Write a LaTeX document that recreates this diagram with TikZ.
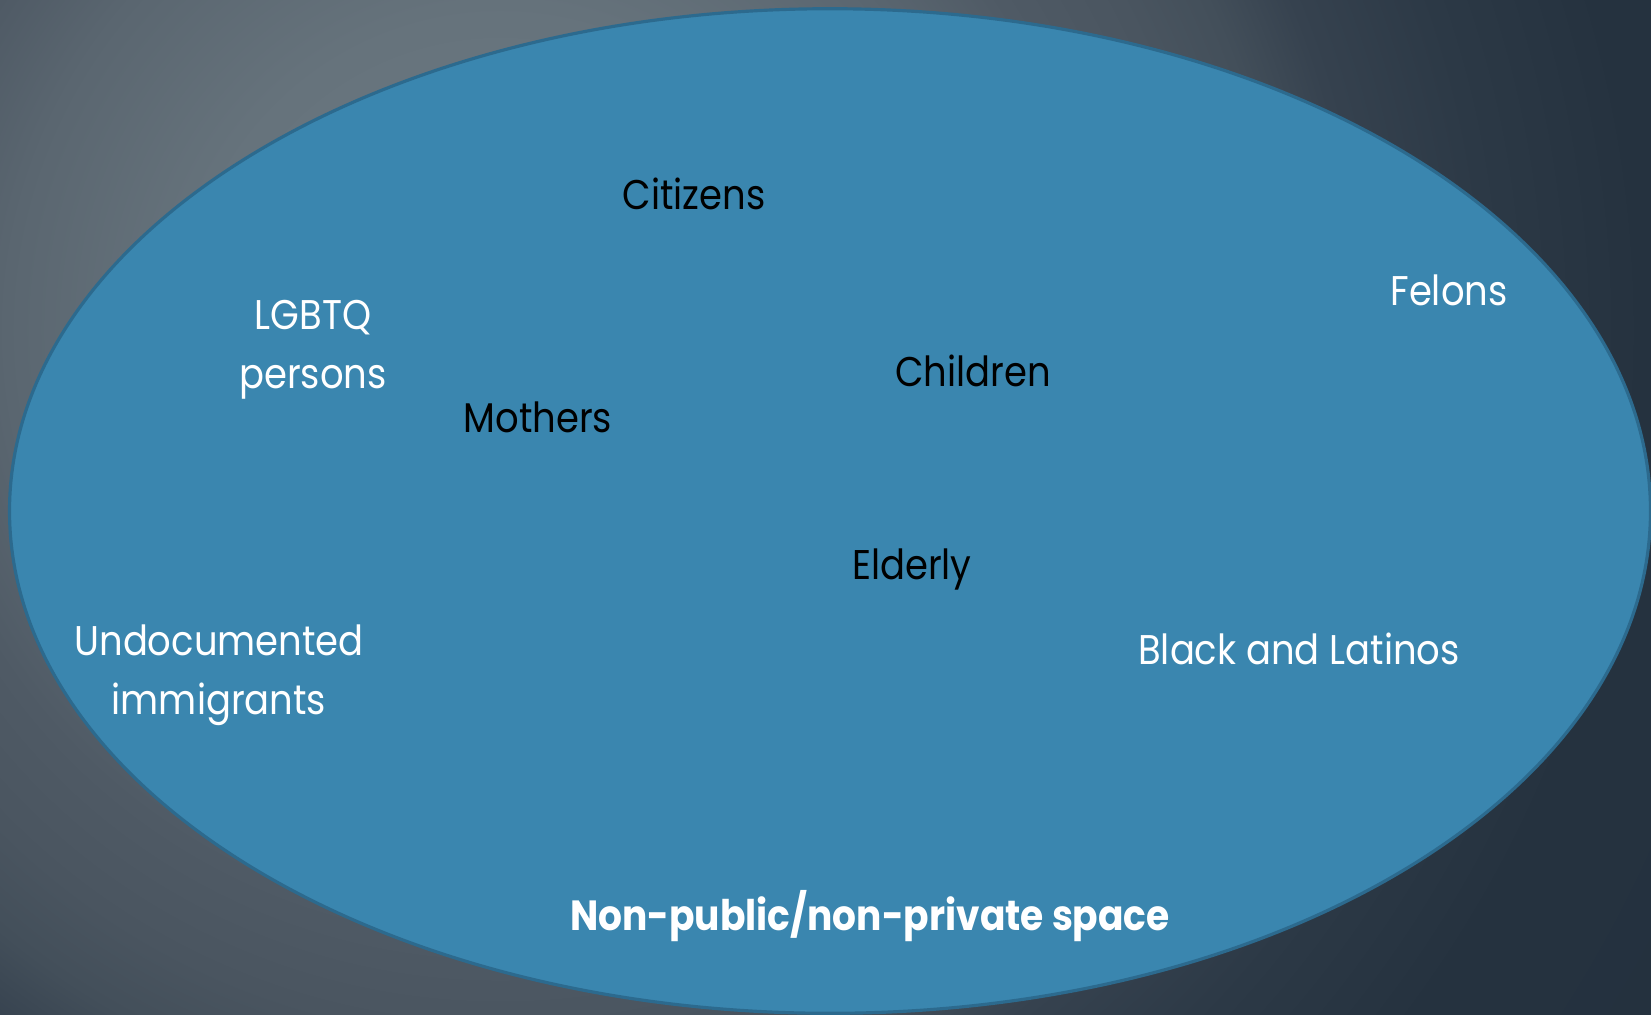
\documentclass[tikz,border=0pt]{standalone}
\usepackage{fontspec}
\setmainfont{Poppins}[FakeStretch=0.89]
\usepackage{xcolor}
\usepackage{tikz}

\definecolor{glowA}{HTML}{6E7B84}
\definecolor{glowB}{HTML}{66737C}
\definecolor{glowC}{HTML}{5A6670}
\definecolor{glowD}{HTML}{4F5A65}
\definecolor{glowE}{HTML}{4A5560}
\definecolor{glowF}{HTML}{434F5A}
\definecolor{glowG}{HTML}{36424F}
\definecolor{glowH}{HTML}{2C3946}
\definecolor{glowI}{HTML}{25323F}
\definecolor{glowJ}{HTML}{212E3C}
\definecolor{spacefill}{HTML}{3A86AF}
\definecolor{spaceline}{HTML}{2C6A8E}

\pgfdeclareradialshading{slideglow}{\pgfpoint{0bp}{0bp}}{%
  color(0bp)=(glowA); color(6bp)=(glowB); color(9.5bp)=(glowC);
  color(11.5bp)=(glowD); color(13.5bp)=(glowE); color(15bp)=(glowF);
  color(16.5bp)=(glowG); color(19bp)=(glowH); color(22bp)=(glowI);
  color(40bp)=(glowJ)}

\tikzset{
  grouplabel/.style={font=\fontsize{11.8}{16.5}\selectfont, anchor=base, align=center, inner sep=0pt},
  darklabel/.style={grouplabel, text=black},
  lightlabel/.style={grouplabel, text=white},
  spacetitle/.style={grouplabel, text=white, font=\fontsize{12.0}{16}\selectfont\bfseries},
  spaceedge/.style={draw=spaceline, line width=0.9pt, fill=spacefill}
}

\begin{document}
\begin{tikzpicture}[x=0.01cm, y=-0.01cm]

% === Slide background ===
\useasboundingbox (0,0) rectangle (1651,1014);
\begin{scope}
  \clip (0,0) rectangle (1651,1014);
  \shade[shading=slideglow] (-800,-970) rectangle (1800,1630);
\end{scope}

% === The space ===
\draw[spaceedge] (830,511) ellipse [x radius=8.2cm, y radius=5.02cm];

% === Groups ===
\node[darklabel]  (citizens)     at (694,209)  {Citizens};
\node[lightlabel] (lgbtq)        at (313,388)  {LGBTQ\\persons};
\node[lightlabel] (felons)       at (1449,305) {Felons};
\node[darklabel]  (children)     at (973,386)  {Children};
\node[darklabel]  (mothers)      at (538,432)  {Mothers};
\node[darklabel]  (elderly)      at (912,579)  {Elderly};
\node[lightlabel] (undocumented) at (219,714)  {Undocumented\\immigrants};
\node[lightlabel] (blacklatinos) at (1299,664) {Black and Latinos};

% Name of the space
\node[spacetitle] (spacename) at (870,930) {Non-public/non-private space};

\end{tikzpicture}
\end{document}
